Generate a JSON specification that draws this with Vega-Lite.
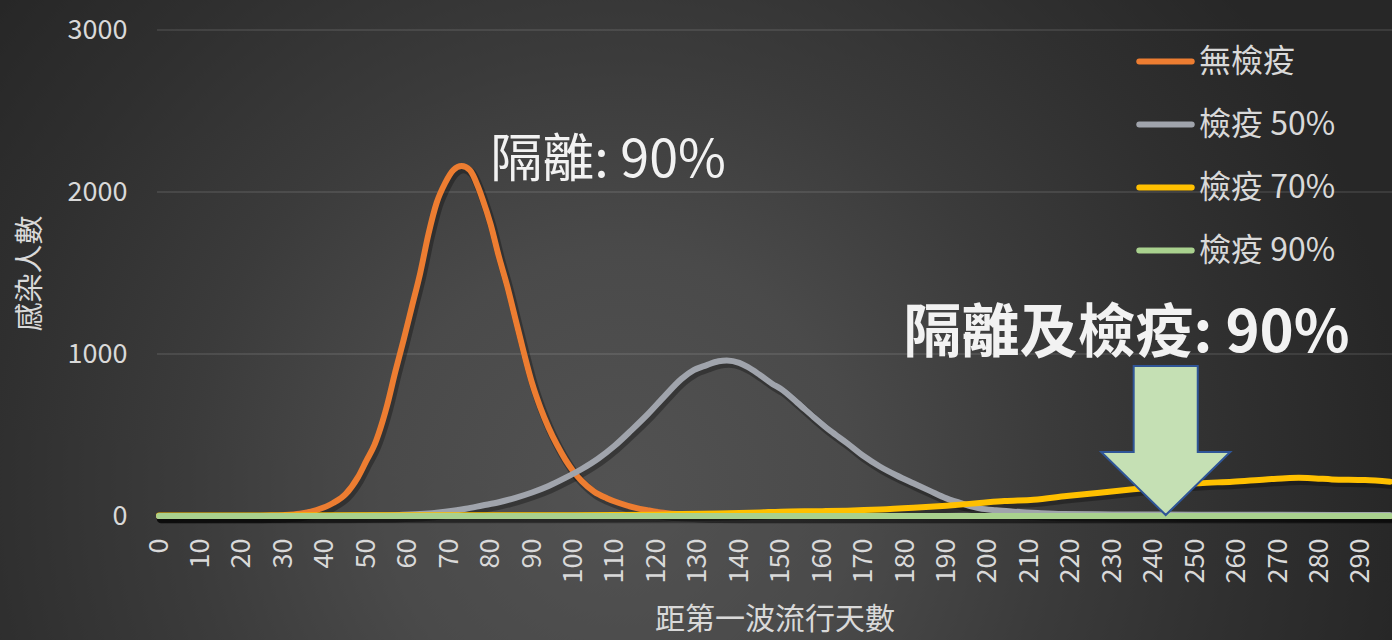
{
  "$schema": "https://vega.github.io/schema/vega-lite/v6.json",
  "width": 1235,
  "height": 486,
  "autosize": {"type": "none"},
  "padding": {"left": 157, "top": 30, "right": 0, "bottom": 124},
  "background": "#2a2a2a",
  "config": {
    "view": {"stroke": null},
    "font": "Noto Sans CJK TC",
    "axis": {"labelFont": "Noto Sans CJK TC", "titleFont": "Noto Sans CJK TC", "labelColor": "#d9d9d9", "titleColor": "#d9d9d9", "ticks": false, "domain": false, "grid": false},
    "legend": {"labelFont": "Noto Sans CJK TC"}
  },
  "datasets": {
    "curves": [
      {"d": 0, "s": "無檢疫", "v": 0}, {"d": 10, "s": "無檢疫", "v": 0}, {"d": 20, "s": "無檢疫", "v": 0},
      {"d": 26, "s": "無檢疫", "v": 2}, {"d": 30, "s": "無檢疫", "v": 5}, {"d": 34, "s": "無檢疫", "v": 14},
      {"d": 38, "s": "無檢疫", "v": 37}, {"d": 42, "s": "無檢疫", "v": 80}, {"d": 45, "s": "無檢疫", "v": 135},
      {"d": 48, "s": "無檢疫", "v": 240}, {"d": 50, "s": "無檢疫", "v": 340}, {"d": 52, "s": "無檢疫", "v": 440},
      {"d": 54, "s": "無檢疫", "v": 590}, {"d": 55, "s": "無檢疫", "v": 680}, {"d": 57, "s": "無檢疫", "v": 890},
      {"d": 59, "s": "無檢疫", "v": 1086}, {"d": 61, "s": "無檢疫", "v": 1292}, {"d": 63, "s": "無檢疫", "v": 1498},
      {"d": 65, "s": "無檢疫", "v": 1740}, {"d": 67, "s": "無檢疫", "v": 1935}, {"d": 69, "s": "無檢疫", "v": 2054},
      {"d": 71, "s": "無檢疫", "v": 2135}, {"d": 73, "s": "無檢疫", "v": 2160}, {"d": 75, "s": "無檢疫", "v": 2135},
      {"d": 77, "s": "無檢疫", "v": 2030}, {"d": 78, "s": "無檢疫", "v": 1960}, {"d": 80, "s": "無檢疫", "v": 1800},
      {"d": 82, "s": "無檢疫", "v": 1600}, {"d": 84, "s": "無檢疫", "v": 1420}, {"d": 86, "s": "無檢疫", "v": 1215},
      {"d": 88, "s": "無檢疫", "v": 1010}, {"d": 90, "s": "無檢疫", "v": 820}, {"d": 92, "s": "無檢疫", "v": 670},
      {"d": 94, "s": "無檢疫", "v": 545}, {"d": 96, "s": "無檢疫", "v": 440}, {"d": 98, "s": "無檢疫", "v": 350},
      {"d": 100, "s": "無檢疫", "v": 275}, {"d": 102, "s": "無檢疫", "v": 215}, {"d": 105, "s": "無檢疫", "v": 150},
      {"d": 108, "s": "無檢疫", "v": 110}, {"d": 111, "s": "無檢疫", "v": 80}, {"d": 115, "s": "無檢疫", "v": 50},
      {"d": 118, "s": "無檢疫", "v": 35}, {"d": 121, "s": "無檢疫", "v": 22}, {"d": 125, "s": "無檢疫", "v": 12},
      {"d": 130, "s": "無檢疫", "v": 5}, {"d": 135, "s": "無檢疫", "v": 1}, {"d": 140, "s": "無檢疫", "v": 0},
      {"d": 200, "s": "無檢疫", "v": 0}, {"d": 297, "s": "無檢疫", "v": 0},

      {"d": 0, "s": "檢疫 50%", "v": 0}, {"d": 40, "s": "檢疫 50%", "v": 0}, {"d": 50, "s": "檢疫 50%", "v": 2},
      {"d": 57, "s": "檢疫 50%", "v": 5}, {"d": 63, "s": "檢疫 50%", "v": 12}, {"d": 69, "s": "檢疫 50%", "v": 27},
      {"d": 74, "s": "檢疫 50%", "v": 45}, {"d": 78, "s": "檢疫 50%", "v": 65}, {"d": 82, "s": "檢疫 50%", "v": 85},
      {"d": 86, "s": "檢疫 50%", "v": 112}, {"d": 90, "s": "檢疫 50%", "v": 145}, {"d": 94, "s": "檢疫 50%", "v": 185},
      {"d": 98, "s": "檢疫 50%", "v": 235}, {"d": 102, "s": "檢疫 50%", "v": 290}, {"d": 106, "s": "檢疫 50%", "v": 355},
      {"d": 110, "s": "檢疫 50%", "v": 435}, {"d": 114, "s": "檢疫 50%", "v": 530}, {"d": 118, "s": "檢疫 50%", "v": 630},
      {"d": 122, "s": "檢疫 50%", "v": 740}, {"d": 126, "s": "檢疫 50%", "v": 845}, {"d": 129, "s": "檢疫 50%", "v": 900},
      {"d": 132, "s": "檢疫 50%", "v": 930}, {"d": 135, "s": "檢疫 50%", "v": 955}, {"d": 137, "s": "檢疫 50%", "v": 960},
      {"d": 140, "s": "檢疫 50%", "v": 945}, {"d": 142, "s": "檢疫 50%", "v": 920}, {"d": 145, "s": "檢疫 50%", "v": 870},
      {"d": 148, "s": "檢疫 50%", "v": 815}, {"d": 150, "s": "檢疫 50%", "v": 785}, {"d": 154, "s": "檢疫 50%", "v": 700},
      {"d": 158, "s": "檢疫 50%", "v": 610}, {"d": 162, "s": "檢疫 50%", "v": 525}, {"d": 166, "s": "檢疫 50%", "v": 450},
      {"d": 170, "s": "檢疫 50%", "v": 370}, {"d": 174, "s": "檢疫 50%", "v": 304}, {"d": 178, "s": "檢疫 50%", "v": 250},
      {"d": 182, "s": "檢疫 50%", "v": 202}, {"d": 186, "s": "檢疫 50%", "v": 155}, {"d": 190, "s": "檢疫 50%", "v": 109},
      {"d": 194, "s": "檢疫 50%", "v": 75}, {"d": 198, "s": "檢疫 50%", "v": 47}, {"d": 202, "s": "檢疫 50%", "v": 35},
      {"d": 206, "s": "檢疫 50%", "v": 27}, {"d": 212, "s": "檢疫 50%", "v": 18}, {"d": 218, "s": "檢疫 50%", "v": 12},
      {"d": 230, "s": "檢疫 50%", "v": 10}, {"d": 250, "s": "檢疫 50%", "v": 8}, {"d": 270, "s": "檢疫 50%", "v": 7},
      {"d": 297, "s": "檢疫 50%", "v": 6},

      {"d": 0, "s": "檢疫 70%", "v": 3}, {"d": 50, "s": "檢疫 70%", "v": 4}, {"d": 100, "s": "檢疫 70%", "v": 5},
      {"d": 120, "s": "檢疫 70%", "v": 8}, {"d": 126, "s": "檢疫 70%", "v": 12}, {"d": 135, "s": "檢疫 70%", "v": 15},
      {"d": 145, "s": "檢疫 70%", "v": 22}, {"d": 150, "s": "檢疫 70%", "v": 27}, {"d": 160, "s": "檢疫 70%", "v": 30},
      {"d": 166, "s": "檢疫 70%", "v": 33}, {"d": 174, "s": "檢疫 70%", "v": 40}, {"d": 182, "s": "檢疫 70%", "v": 51},
      {"d": 190, "s": "檢疫 70%", "v": 64}, {"d": 198, "s": "檢疫 70%", "v": 80}, {"d": 204, "s": "檢疫 70%", "v": 92},
      {"d": 211, "s": "檢疫 70%", "v": 100}, {"d": 219, "s": "檢疫 70%", "v": 123}, {"d": 227, "s": "檢疫 70%", "v": 144},
      {"d": 235, "s": "檢疫 70%", "v": 165}, {"d": 240, "s": "檢疫 70%", "v": 178}, {"d": 245, "s": "檢疫 70%", "v": 190},
      {"d": 251, "s": "檢疫 70%", "v": 202}, {"d": 259, "s": "檢疫 70%", "v": 212}, {"d": 267, "s": "檢疫 70%", "v": 226},
      {"d": 271, "s": "檢疫 70%", "v": 232}, {"d": 275, "s": "檢疫 70%", "v": 236}, {"d": 279, "s": "檢疫 70%", "v": 232},
      {"d": 283, "s": "檢疫 70%", "v": 226}, {"d": 291, "s": "檢疫 70%", "v": 222}, {"d": 297, "s": "檢疫 70%", "v": 212},

      {"d": 0, "s": "檢疫 90%", "v": 0}, {"d": 100, "s": "檢疫 90%", "v": 0}, {"d": 200, "s": "檢疫 90%", "v": 0},
      {"d": 297, "s": "檢疫 90%", "v": 0}
    ],
    "gridlines": [{"g": 1000}, {"g": 2000}, {"g": 3000}]
  },
  "layer": [
    {
      "description": "radial backdrop behind the whole figure",
      "data": {"values": [{}]},
      "mark": {
        "type": "rect",
        "clip": false,
        "color": {
          "gradient": "radial",
          "x1": 0.443, "y1": 0.62, "r1": 0,
          "x2": 0.443, "y2": 0.62, "r2": 0.56,
          "stops": [
            {"offset": 0, "color": "#525252"},
            {"offset": 0.3, "color": "#4a4a4a"},
            {"offset": 0.55, "color": "#3b3b3b"},
            {"offset": 0.8, "color": "#2f2f2f"},
            {"offset": 1, "color": "#272727"}
          ]
        }
      },
      "encoding": {
        "x": {
          "datum": -39, "type": "quantitative",
          "scale": {"domain": [-0.5, 297.5], "nice": false, "zero": false},
          "axis": {
            "zindex": 2,
            "title": "距第一波流行天數",
            "titleFontSize": 30, "titleFontWeight": "normal", "titlePadding": 22,
            "values": [0, 10, 20, 30, 40, 50, 60, 70, 80, 90, 100, 110, 120, 130, 140, 150, 160, 170, 180, 190, 200, 210, 220, 230, 240, 250, 260, 270, 280, 290],
            "format": "d",
            "labelAngle": -90, "labelFontSize": 27, "labelPadding": 22, "labelFlush": false, "labelOverlap": false
          }
        },
        "x2": {"datum": 300},
        "y": {
          "datum": 3190, "type": "quantitative",
          "scale": {"domain": [0, 3000], "nice": false},
          "axis": {
            "zindex": 2,
            "title": "感染人數",
            "titleFontSize": 29, "titleFontWeight": "normal", "titlePadding": 22,
            "values": [0, 1000, 2000, 3000], "format": "d", "labelFontSize": 27, "labelPadding": 30
          }
        },
        "y2": {"datum": -770}
      }
    },
    {
      "data": {"name": "gridlines"},
      "mark": {"type": "rule", "color": "#ffffff", "opacity": 0.13, "strokeWidth": 1.5},
      "encoding": {
        "y": {"field": "g", "type": "quantitative"}
      }
    },
    {
      "data": {"name": "curves"},
      "mark": {"type": "line", "interpolate": "monotone", "color": "#000000", "opacity": 0.3, "strokeWidth": 8.5, "yOffset": 3, "xOffset": 2, "strokeCap": "round"},
      "encoding": {
        "x": {"field": "d", "type": "quantitative"},
        "y": {"field": "v", "type": "quantitative"},
        "detail": {"field": "s"}
      }
    },
    {
      "data": {"name": "curves"},
      "mark": {"type": "line", "interpolate": "monotone", "strokeWidth": 6, "strokeCap": "round", "strokeJoin": "round"},
      "encoding": {
        "x": {"field": "d", "type": "quantitative"},
        "y": {"field": "v", "type": "quantitative"},
        "color": {
          "field": "s", "type": "nominal",
          "scale": {"domain": ["無檢疫", "檢疫 50%", "檢疫 70%", "檢疫 90%"], "range": ["#ED7D31", "#A0A4AC", "#FFC000", "#A9D18E"]},
          "legend": {
            "title": null, "orient": "none", "legendX": 979, "legendY": 2, "padding": 0,
            "symbolType": "stroke", "symbolSize": 2750, "symbolStrokeWidth": 6, "symbolOpacity": 1,
            "labelFontSize": 32, "labelColor": "#d9d9d9", "labelOffset": 4, "rowPadding": 17,
            "encode": {"symbols": {"update": {"strokeCap": {"value": "round"}}}}
          }
        }
      }
    },
    {
      "data": {"values": [{}]},
      "mark": {"type": "text", "text": "隔離: 90%", "align": "left", "baseline": "middle", "fontSize": 52, "color": "#f2f2f2", "font": "Noto Sans CJK TC"},
      "encoding": {
        "x": {"datum": 79.9, "type": "quantitative"},
        "y": {"datum": 2191, "type": "quantitative"}
      }
    },
    {
      "data": {"values": [{}]},
      "mark": {"type": "text", "text": "隔離及檢疫: 90%", "align": "left", "baseline": "middle", "fontSize": 58, "fontWeight": "bold", "color": "#f2f2f2", "font": "Noto Sans CJK TC"},
      "encoding": {
        "x": {"datum": 179.6, "type": "quantitative"},
        "y": {"datum": 1115, "type": "quantitative"}
      }
    },
    {
      "data": {"values": [{}]},
      "mark": {
        "type": "point",
        "shape": "M -0.43 -1 L 0.43 -1 L 0.43 0.154 L 0.866 0.154 L 0 1 L -0.866 0.154 L -0.43 0.154 Z",
        "size": 22201, "filled": true, "fill": "#C5E0B4", "stroke": "#2F5597", "strokeWidth": 2, "opacity": 1
      },
      "encoding": {
        "x": {"datum": 242.9, "type": "quantitative"},
        "y": {"datum": 466, "type": "quantitative"}
      }
    }
  ]
}
